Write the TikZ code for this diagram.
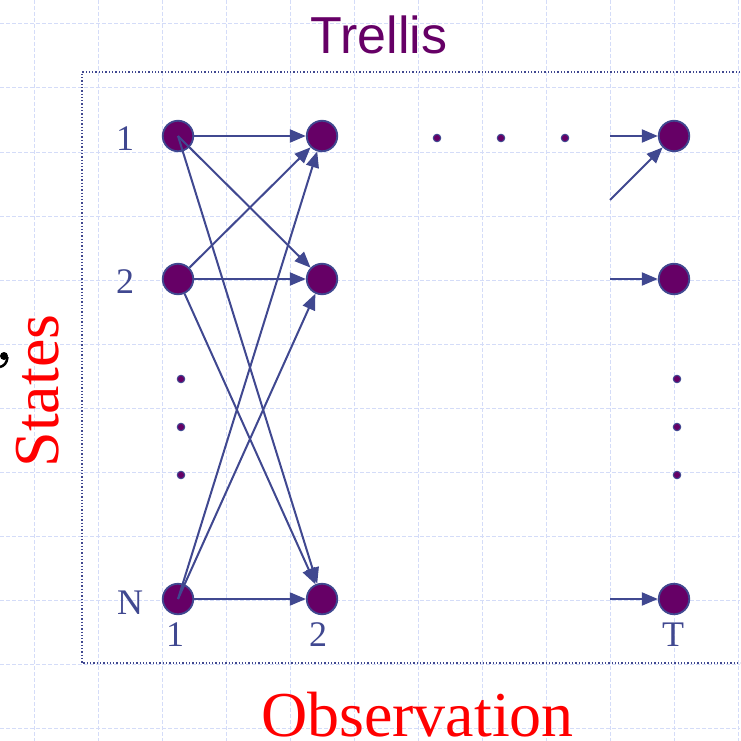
\documentclass[tikz,border=0pt]{standalone}
\usepackage{fontspec}
\setmainfont{Liberation Serif}
\newfontfamily\sansf{Liberation Sans}
\usetikzlibrary{arrows.meta}
\definecolor{nodefill}{HTML}{660066}
\definecolor{edgeblue}{HTML}{404890}
\definecolor{gridblue}{HTML}{D4DCF8}
\definecolor{titlepurple}{HTML}{660066}
\begin{document}
\begin{tikzpicture}[x=1pt,y=-1pt,
  state/.style={circle, fill=nodefill, draw=edgeblue, line width=1.8pt, minimum size=30.5pt, inner sep=0pt},
  dotnode/.style={circle, fill=nodefill, draw=edgeblue, line width=1pt, minimum size=7.5pt, inner sep=0pt},
  lab/.style={text=edgeblue, font=\fontsize{36}{40}\selectfont, anchor=base, inner sep=0pt},
  arr/.style={draw=edgeblue, line width=2pt, -{Triangle[length=16pt,width=13pt]}},
  gridline/.style={draw=gridblue, line width=1pt, dash pattern=on 4pt off 2pt}]
\useasboundingbox (0,0) rectangle (740,741);
\clip (0,0) rectangle (740,741);
\fill[white] (0,0) rectangle (740,741);
% grid
\foreach \x in {34,98,...,738} \draw[gridline] (\x,0) -- (\x,741);
\foreach \y in {24,88,...,728} \draw[gridline] (0,\y) -- (740,\y);
% dotted frame
\draw[edgeblue, line width=1.3pt, dotted] (760,72) -- (82,72) -- (82,663) -- (760,663);
% texts
\node[text=titlepurple, font=\sansf\fontsize{52}{56}\selectfont, anchor=base, inner sep=0pt] (title) at (379,54) {Trellis};
\node[text=red, font=\fontsize{64}{70}\selectfont, anchor=base, inner sep=0pt] (obs) at (417.5,736) {Observation};
\node[text=red, font=\fontsize{64}{70}\selectfont, anchor=base, inner sep=0pt, rotate=90] (states) at (58,391) {States};
% black comma fragment
\fill[black] (4,356) circle (4);
\draw[black, line width=2.5pt] (7.5,357) .. controls (7,363) and (4,366) .. (0,367);
% state nodes
\node[state] (a1) at (178,136) {};
\node[state] (a2) at (178,279) {};
\node[state] (aN) at (178,599) {};
\node[state] (b1) at (322,136) {};
\node[state] (b2) at (322,279) {};
\node[state] (bN) at (322,599) {};
\node[state] (t1) at (674,136) {};
\node[state] (t2) at (674,279) {};
\node[state] (tN) at (674,599) {};
% labels
\node[lab] (l1) at (125,150) {1};
\node[lab] (l2) at (125,293) {2};
\node[lab] (lN) at (130,614) {N};
\node[lab] (c1) at (175,646) {1};
\node[lab] (c2) at (318,646) {2};
\node[lab] (cT) at (673,646) {T};
% ellipsis dots
\node[dotnode] (h1) at (437,138) {};
\node[dotnode] (h2) at (501,138) {};
\node[dotnode] (h3) at (565,138) {};
\node[dotnode] (v1) at (181,379) {};
\node[dotnode] (v2) at (181,427) {};
\node[dotnode] (v3) at (181,475) {};
\node[dotnode] (w1) at (677,379) {};
\node[dotnode] (w2) at (677,427) {};
\node[dotnode] (w3) at (677,475) {};
% free ends
\coordinate (s1) at (610,136);
\coordinate (s1b) at (610,200);
\coordinate (s2) at (610,279);
\coordinate (sN) at (610,599);
% arrows
\draw[arr] (a1) -- (b1);
\draw[arr] (a2) -- (b2);
\draw[arr] (aN) -- (bN);
\draw[arr] (a1.center) -- (b2);
\draw[arr] (a1.center) -- (bN);
\draw[arr] (a2) -- (b1);
\draw[arr] (a2) -- (bN);
\draw[arr] (aN.center) -- (b1);
\draw[arr] (aN.center) -- (b2);
\draw[arr] (s1) -- (t1);
\draw[arr] (s1b) -- (t1);
\draw[arr] (s2) -- (t2);
\draw[arr] (sN) -- (tN);
\end{tikzpicture}
\end{document}
